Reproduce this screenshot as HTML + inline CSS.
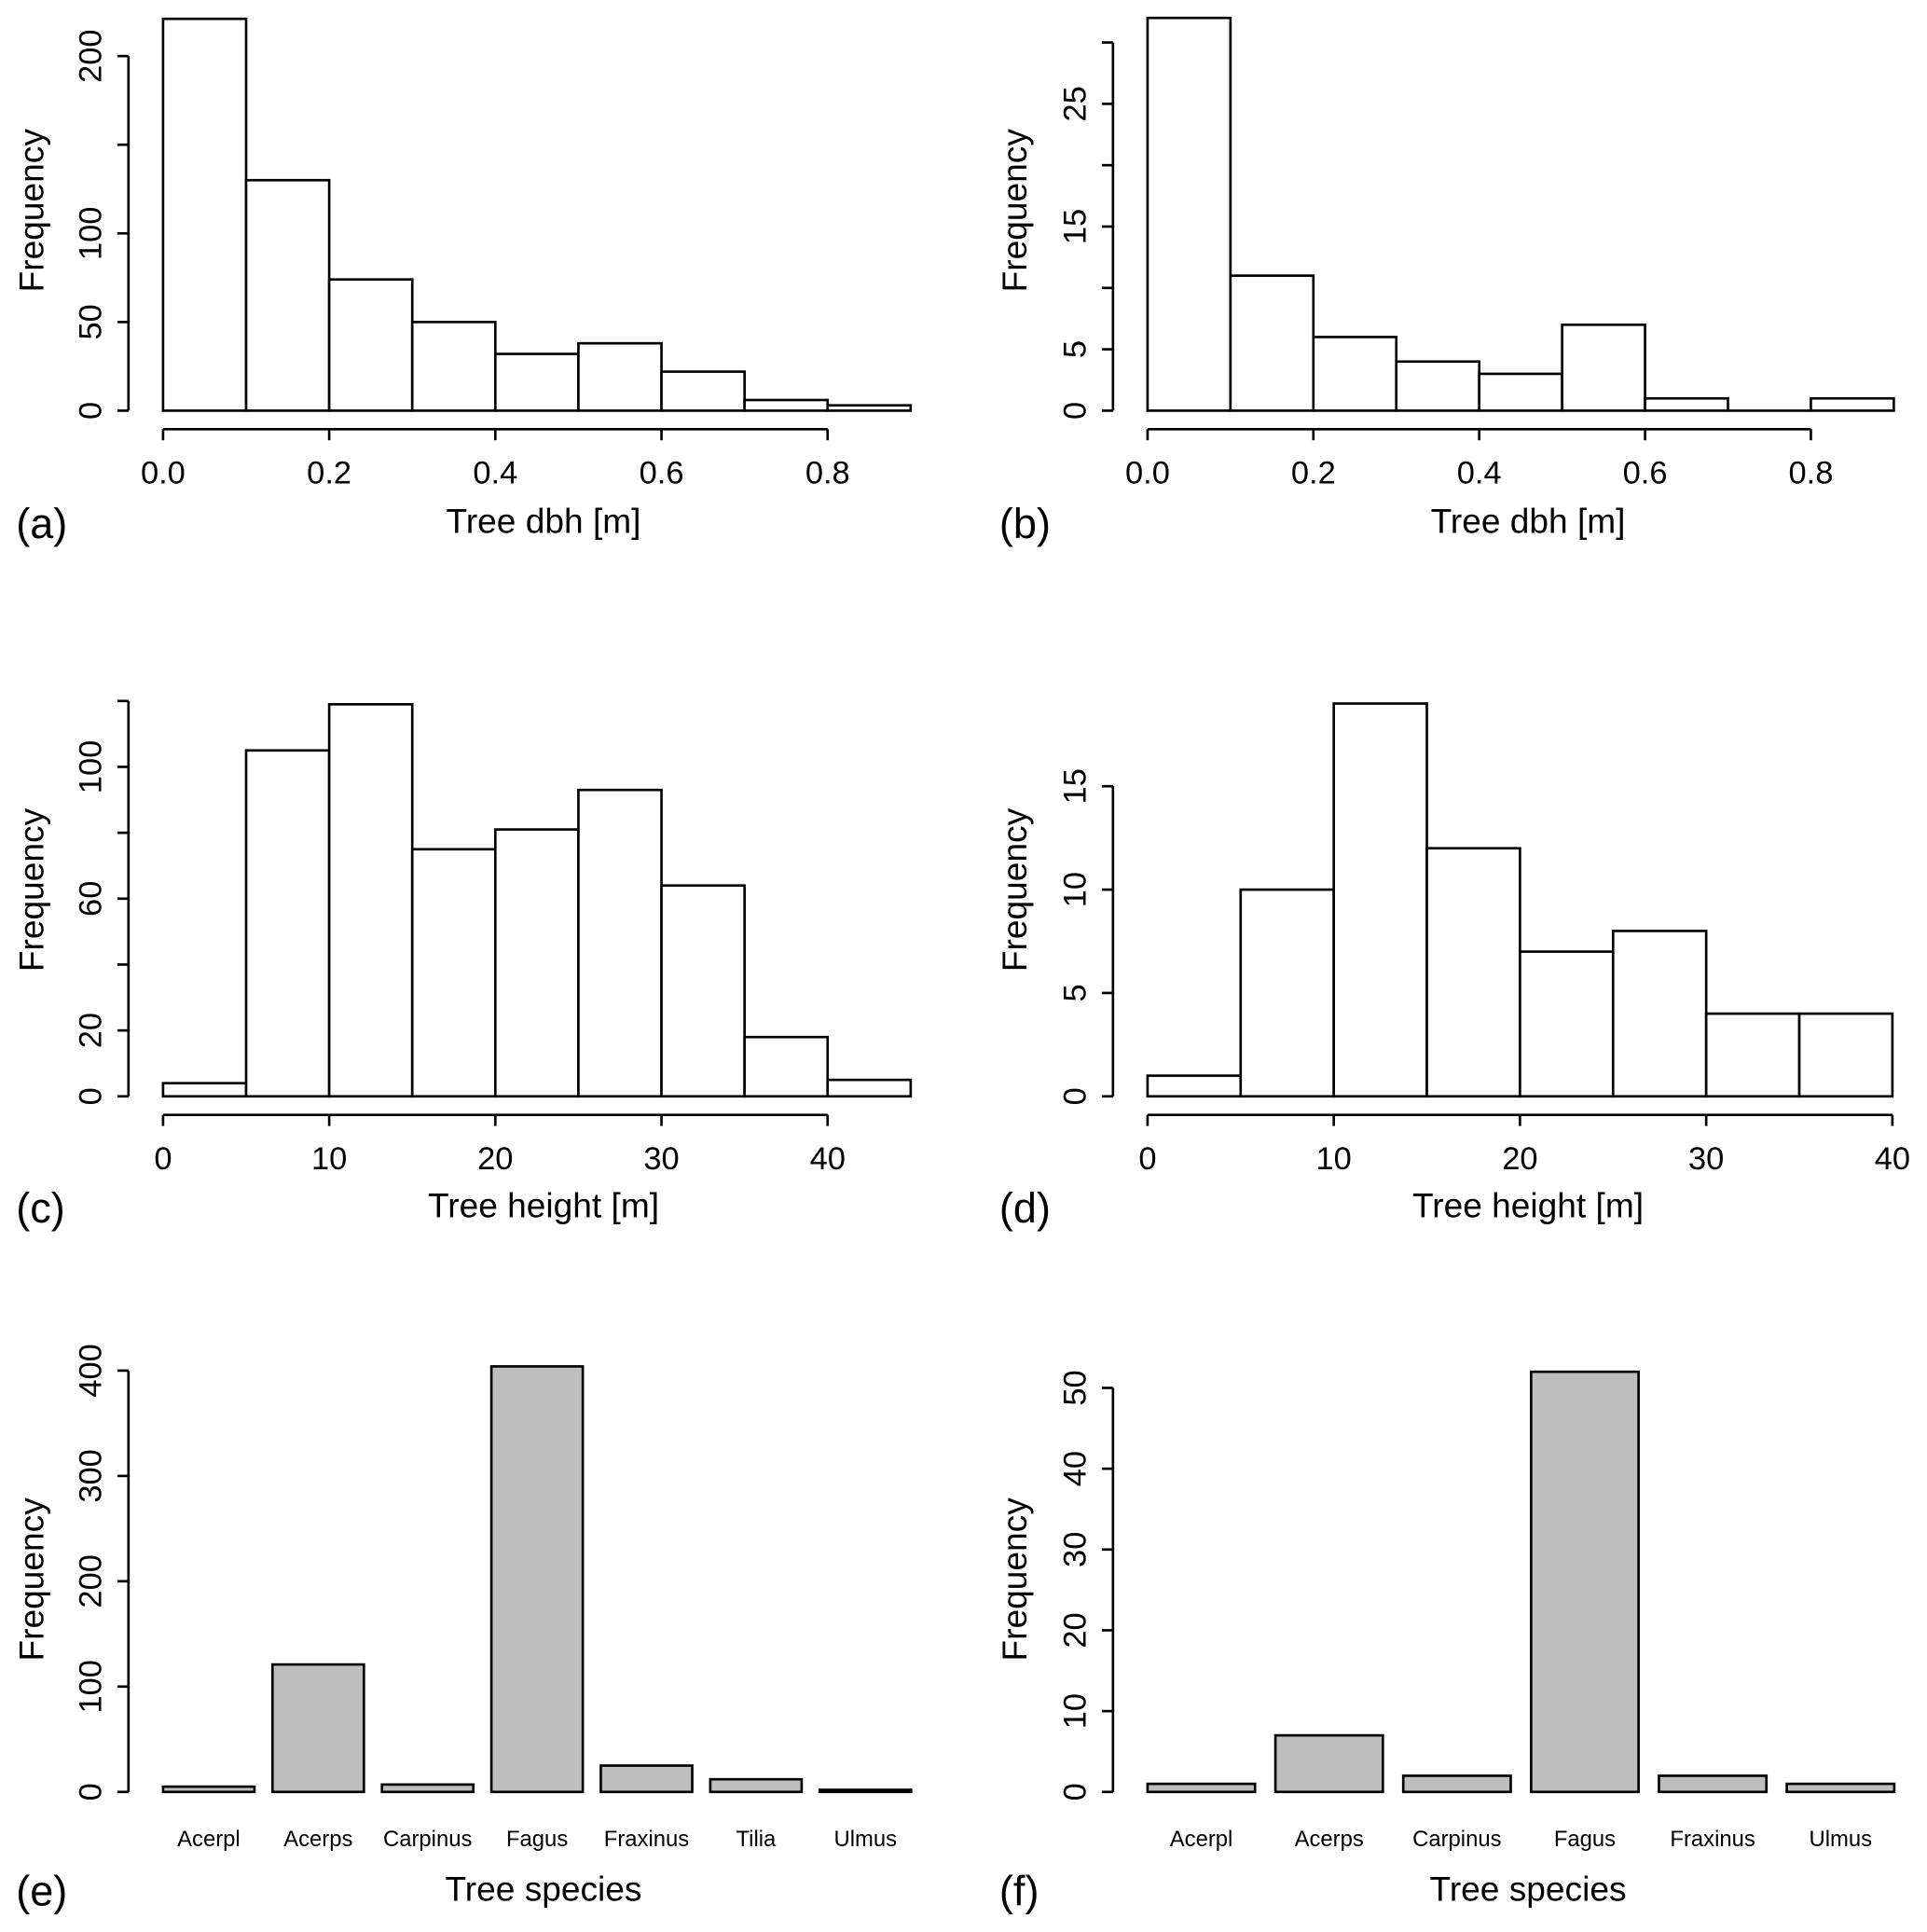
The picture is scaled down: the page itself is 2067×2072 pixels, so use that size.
<!DOCTYPE html>
<html><head><meta charset="utf-8"><style>
html,body{margin:0;padding:0;background:#fff}
svg{display:block}
text{font-family:"Liberation Sans",Arial,sans-serif;fill:#000}
</style></head><body>
<svg id="fig" width="2067" height="2072" viewBox="0 0 1560 1563" xmlns="http://www.w3.org/2000/svg"></svg>
<script>
// Panel (a): tree dbh, all trees
const dbhBreaks = [0,0.1,0.2,0.3,0.4,0.5,0.6,0.7,0.8,0.9];
const dbhCountsA = [221,130,74,50,32,38,22,6,3];
const dbhTicksX = [0,0.2,0.4,0.6,0.8];
const dbhTickLabelsX = ["0.0","0.2","0.4","0.6","0.8"];
const freqTicksA = [0,50,100,150,200];
const freqTickLabelsA = ["0","50","100","","200"];
// Panel (b)
const dbhCountsB = [32,11,6,4,3,7,1,0,1];
const freqTicksB = [0,5,10,15,20,25,30];
const freqTickLabelsB = ["0","5","","15","","25",""];
// Panel (c): tree height
const hBreaksC = [0,5,10,15,20,25,30,35,40,45];
const hCountsC = [4,105,119,75,81,93,64,18,5];
const hTicksC = [0,10,20,30,40];
const freqTicksC = [0,20,40,60,80,100,120];
const freqTickLabelsC = ["0","20","","60","","100",""];
// Panel (d)
const hBreaksD = [0,5,10,15,20,25,30,35,40];
const hCountsD = [1,10,19,12,7,8,4,4];
const freqTicksD = [0,5,10,15];
// Panel (e): species
const speciesE = ["Acerpl","Acerps","Carpinus","Fagus","Fraxinus","Tilia","Ulmus"];
const speciesCountsE = [5,121,7,404,25,12,2];
const freqTicksE = [0,100,200,300,400];
// Panel (f)
const speciesF = ["Acerpl","Acerps","Carpinus","Fagus","Fraxinus","Ulmus"];
const speciesCountsF = [1,7,2,52,2,1];
const freqTicksF = [0,10,20,30,40,50];

const NS="http://www.w3.org/2000/svg";
const svg=document.getElementById('fig');
function el(tag,attrs,parent,txt){const e=document.createElementNS(NS,tag);for(const k in attrs)e.setAttribute(k,attrs[k]);if(txt!==undefined)e.textContent=txt;(parent||svg).appendChild(e);return e;}
function lin(d0,d1,r0,r1){return v=>r0+(v-d0)*(r1-r0)/(d1-d0);}

function yAxis(g,y,ticks,labels,axX,prefix){
  const ax=el('line',{x1:axX,x2:axX,y1:y(ticks[0]),y2:y(ticks[ticks.length-1]),stroke:'#000','stroke-width':2},g);
  
  
  ticks.forEach((t,i)=>{
    const tk=el('line',{x1:axX-9,x2:axX,y1:y(t),y2:y(t),stroke:'#000','stroke-width':2},g);
    
    
    const lab=labels?labels[i]:String(t);
    if(lab){const tx=el('text',{x:0,y:0,'font-size':26,'text-anchor':'middle',transform:`translate(${axX-22},${y(t)}) rotate(-90)`},g,lab);
      
      }
  });
}
function frame(prefix,ox,titleY){
  const g=el('g',{});
  
  
  const yt=el('text',{x:0,y:0,'font-size':28,'text-anchor':'middle',transform:`translate(${ox+35},${titleY}) rotate(-90)`},g,'Frequency');
  
  
  return g;
}
function hist(prefix,ox,breaks,counts,xd,xr,yTop,y0,ticks,tlabels,xticks,xtlabels,xtitle,baseY,freqY,titleX){
  const g=frame(prefix,ox,freqY);
  const x=lin(xd[0],xd[1],xr[0],xr[1]);
  const y=lin(0,ticks[ticks.length-1],y0,yTop);
  counts.forEach((c,i)=>{
    if(c<=0){const l=el('line',{x1:x(breaks[i]),x2:x(breaks[i+1]),y1:y0,y2:y0,stroke:'#000','stroke-width':2},g);
      return;}
    const r=el('rect',{x:x(breaks[i]),y:y(c),width:x(breaks[i+1])-x(breaks[i]),height:y0-y(c),fill:'#fff',stroke:'#000','stroke-width':2},g);
    
    
  });
  yAxis(g,y,ticks,tlabels,xr[0]-28,prefix);
  const axY=y0+15;
  const xa=el('line',{x1:x(xticks[0]),x2:x(xticks[xticks.length-1]),y1:axY,y2:axY,stroke:'#000','stroke-width':2},g);
  
  
  xticks.forEach((t,i)=>{
    const tk=el('line',{x1:x(t),x2:x(t),y1:axY,y2:axY+9,stroke:'#000','stroke-width':2},g);
    
    
    const tx=el('text',{x:x(t),y:axY+44,'font-size':26,'text-anchor':'middle'},g,xtlabels?xtlabels[i]:String(t));
    
    
  });
  const xt=el('text',{x:titleX,y:baseY,'font-size':28,'text-anchor':'middle'},g,xtitle);
  
  
  const lt=el('text',{x:ox+13,y:baseY+4,'font-size':34},g,'('+prefix+')');
  
  
}
function bars(prefix,ox,cats,counts,x0,pitch,w,yTop,y0,ticks,xtitleX){
  const g=frame(prefix,ox,1278);
  const y=lin(0,ticks[ticks.length-1],y0,yTop);
  cats.forEach((c,i)=>{
    const bx=x0+i*pitch;
    const r=el('rect',{x:bx,y:y(counts[i]),width:w,height:Math.max(y0-y(counts[i]),0.5),fill:'#bebebe',stroke:'#000','stroke-width':2},g);
    
    
    const t=el('text',{x:bx+w/2,y:1494,'font-size':18,'text-anchor':'middle'},g,c);
    
    
  });
  yAxis(g,y,ticks,null,x0-28,prefix);
  const xt=el('text',{x:xtitleX,y:1538,'font-size':28,'text-anchor':'middle'},g,'Tree species');
  
  
  const lt=el('text',{x:ox+13,y:1542,'font-size':34},g,'('+prefix+')');
  
  
}
hist('a',0,dbhBreaks,dbhCountsA,[0,0.8],[132,670],45,332,freqTicksA,freqTickLabelsA,dbhTicksX,dbhTickLabelsX,'Tree dbh [m]',431,170,440);
hist('b',796,dbhBreaks,dbhCountsB,[0,0.8],[929,1466],34,332,freqTicksB,freqTickLabelsB,dbhTicksX,dbhTickLabelsX,'Tree dbh [m]',431,170,1237);
hist('c',0,hBreaksC,hCountsC,[0,40],[132,670],567,887,freqTicksC,freqTickLabelsC,hTicksC,null,'Tree height [m]',985,720,440);
hist('d',796,hBreaksD,hCountsD,[0,40],[929,1532],636,887,freqTicksD,null,hTicksC,null,'Tree height [m]',985,720,1237);
bars('e',0,speciesE,speciesCountsE,132,88.6,74,1109,1450,freqTicksE,440);
bars('f',796,speciesF,speciesCountsF,929,103.5,87,1123,1450,freqTicksF,1237);
</script>
</body></html>
